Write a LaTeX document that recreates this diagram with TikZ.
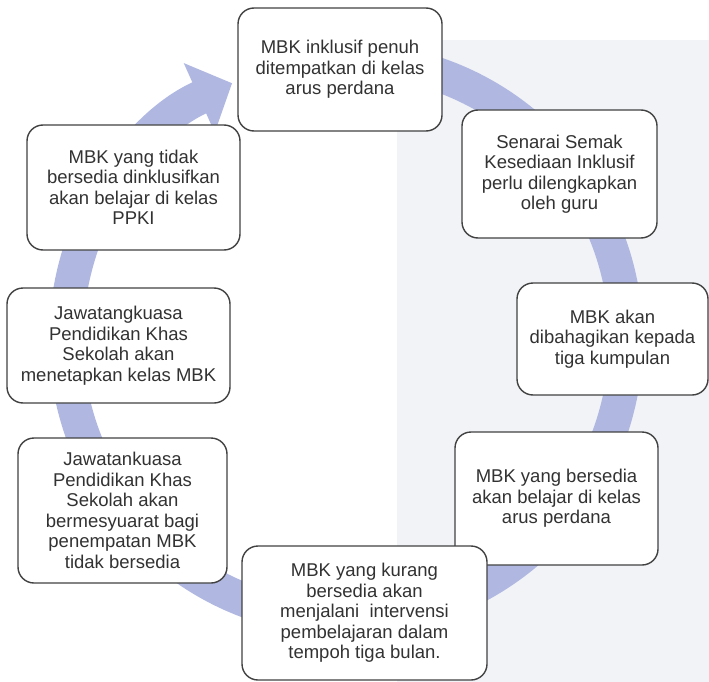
\documentclass[tikz,border=0pt]{standalone}
\usepackage{fontspec}
\setmainfont{Liberation Sans}
\usetikzlibrary{arrows.meta}
\definecolor{ringblue}{RGB}{176,184,226}
\definecolor{pagetint}{RGB}{241,243,246}
\definecolor{boxline}{RGB}{65,65,65}
\definecolor{boxtext}{RGB}{50,50,50}

\begin{document}
\begin{tikzpicture}[x=1pt,y=-1pt,
	box/.style={draw=boxline,line width=1.4pt,rounded corners=16pt,fill=white,
		text=boxtext,align=center,inner sep=3pt,
		font=\fontsize{18.5}{20.5}\selectfont},
	ring/.style={draw=ringblue,line width=34pt,-{Triangle[width=74pt,length=36pt]}}]
		\useasboundingbox (0,0) rectangle (709,682);
		\fill[pagetint] (397,40) rectangle (709,682);
		\coordinate (c) at (346,339);
		\draw[ring] ([shift={(275:280)}]c) arc[start angle=275,end angle=606,radius=280];
		\node[box,minimum width=204pt,minimum height=123pt] (penuh) at (340,69.5)
			{MBK inklusif penuh\\ditempatkan di kelas\\arus perdana};
		\node[box,minimum width=195pt,minimum height=128pt] (semak) at (559.5,174)
			{Senarai Semak\\Kesediaan Inklusif\\perlu dilengkapkan\\oleh guru};
		\node[box,minimum width=191pt,minimum height=112pt] (bahagi) at (612.5,339)
			{MBK akan\\dibahagikan kepada\\tiga kumpulan};
		\node[box,minimum width=203pt,minimum height=133pt] (sedia) at (556.5,498.5)
			{MBK yang bersedia\\akan belajar di kelas\\arus perdana};
		\node[box,minimum width=245pt,minimum height=134pt] (kurang) at (364.5,613)
			{MBK yang kurang\\bersedia akan\\menjalani\ \ intervensi\\pembelajaran dalam\\tempoh tiga bulan.};
		\node[box,minimum width=209pt,minimum height=145pt] (mesyuarat) at (122.5,510.5)
			{Jawatankuasa\\Pendidikan Khas\\Sekolah akan\\bermesyuarat bagi\\penempatan MBK\\tidak bersedia};
		\node[box,minimum width=223pt,minimum height=115pt] (tetap) at (118.5,345.5)
			{Jawatangkuasa\\Pendidikan Khas\\Sekolah akan\\menetapkan kelas MBK};
		\node[box,minimum width=213pt,minimum height=125pt] (ppki) at (133.5,187.5)
			{MBK yang tidak\\bersedia dinklusifkan\\akan belajar di kelas\\PPKI};
	\end{tikzpicture}
\end{document}
